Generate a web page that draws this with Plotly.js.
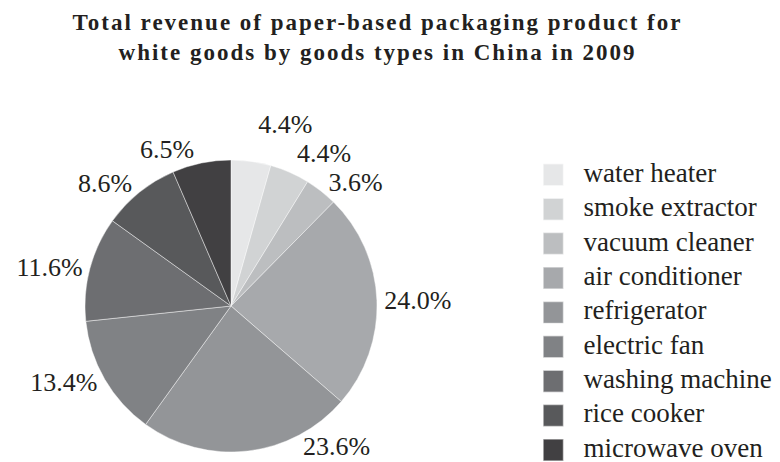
<!DOCTYPE html>
<html>
<head>
<meta charset="utf-8">
<script src="https://cdn.plot.ly/plotly-3.0.1.min.js"></script>
<style>
  html, body { margin: 0; padding: 0; background: #fff; }
  #chart { width: 780px; height: 462px; }
  .gtitle { letter-spacing: 2px; }
  .legendtext { font-size: 27px !important; }
  .legend .legendtext { transform: translateY(-2.5px); }
  .legend .legendpoints path { transform: translate(9px, 0px) scale(1.83); }
  .textline { display: none; }
</style>
</head>
<body>
<div id="chart"></div>
<script>
const categories = ['water heater', 'smoke extractor', 'vacuum cleaner', 'air conditioner',
  'refrigerator', 'electric fan', 'washing machine', 'rice cooker', 'microwave oven'];
const shares = [4.4, 4.4, 3.6, 24.0, 23.6, 13.4, 11.6, 8.6, 6.5];
const colors = ['#e6e7e8', '#d1d3d4', '#bcbec0', '#a7a9ac', '#939598',
  '#808285', '#6d6e71', '#58595b', '#414042'];
const titleText = 'Total revenue of paper-based packaging product for<br>white goods by goods types in China in 2009';

const serif = 'Liberation Serif, Times New Roman, serif';
const ink = '#231f20';

// the bottom label (refrigerator) sits lower-right of its slice in the reference,
// so it is drawn as an annotation; the others use the pie's own outside text
const movedLabel = 'refrigerator';
const movedIdx = categories.indexOf(movedLabel);
const templates = categories.map((c, i) => i === movedIdx ? '' : '%{value:.1f}%');

const trace = {
  type: 'pie',
  labels: categories,
  values: shares,
  sort: false,
  direction: 'clockwise',
  rotation: 0,
  marker: { colors: colors, line: { color: 'rgba(255,255,255,0.55)', width: 0.8 } },
  texttemplate: templates,
  textposition: 'outside',
  outsidetextfont: { family: serif, size: 26, color: ink },
  hoverinfo: 'label+value',
  domain: { x: [0.10897, 0.48333], y: [0.02165, 0.65368] },
  automargin: false
};

const layout = {
  width: 780,
  height: 462,
  margin: { l: 0, r: 0, t: 0, b: 0, autoexpand: false },
  paper_bgcolor: '#ffffff',
  plot_bgcolor: '#ffffff',
  title: {
    text: titleText,
    font: { family: serif, size: 23, color: ink, weight: 'bold' },
    x: 0.484, xanchor: 'center', xref: 'paper',
    y: 0.934, yanchor: 'top', yref: 'container'
  },
  showlegend: true,
  legend: {
    x: 543.5 / 780, xanchor: 'left',
    y: 1 - 152.6 / 462, yanchor: 'top',
    font: { family: serif, size: 24.15, color: ink },
    bgcolor: 'rgba(0,0,0,0)',
    borderwidth: 0,
    traceorder: 'normal'
  },
  annotations: [{
    text: shares[movedIdx].toFixed(1) + '%',
    xref: 'paper', yref: 'paper',
    x: 336 / 780, y: (462 - 446) / 462,
    xanchor: 'center', yanchor: 'middle',
    showarrow: false,
    font: { family: serif, size: 26, color: ink }
  }]
};

Plotly.newPlot('chart', [trace], layout, { displayModeBar: false, staticPlot: true });
</script>
</body>
</html>
